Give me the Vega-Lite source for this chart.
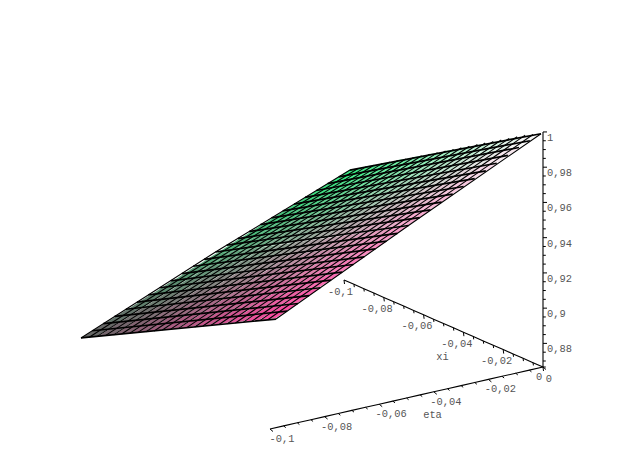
{"$schema":"https://vega.github.io/schema/vega-lite/v6.json","width":623,"height":473,"padding":0,"autosize":"none","background":"white","config":{"view":{"stroke":null}},
"datasets":{
"cells":[
{"e":-0.0958,"x":-0.0958,"z":0.874},{"e":-0.0958,"x":-0.0875,"z":0.879},{"e":-0.0958,"x":-0.0792,"z":0.884},{"e":-0.0958,"x":-0.0708,"z":0.8891},{"e":-0.0958,"x":-0.0625,"z":0.8941},{"e":-0.0958,"x":-0.0542,"z":0.8992},{"e":-0.0958,"x":-0.0458,"z":0.9043},{"e":-0.0958,"x":-0.0375,"z":0.9093},{"e":-0.0958,"x":-0.0292,"z":0.9143},{"e":-0.0958,"x":-0.0208,"z":0.9194},{"e":-0.0958,"x":-0.0125,"z":0.9244},{"e":-0.0958,"x":-0.0042,"z":0.9295},
{"e":-0.0875,"x":-0.0958,"z":0.879},{"e":-0.0875,"x":-0.0875,"z":0.8841},{"e":-0.0875,"x":-0.0792,"z":0.8892},{"e":-0.0875,"x":-0.0708,"z":0.8944},{"e":-0.0875,"x":-0.0625,"z":0.8995},{"e":-0.0875,"x":-0.0542,"z":0.9046},{"e":-0.0875,"x":-0.0458,"z":0.9098},{"e":-0.0875,"x":-0.0375,"z":0.9149},{"e":-0.0875,"x":-0.0292,"z":0.92},{"e":-0.0875,"x":-0.0208,"z":0.9251},{"e":-0.0875,"x":-0.0125,"z":0.9302},{"e":-0.0875,"x":-0.0042,"z":0.9353},
{"e":-0.0792,"x":-0.0958,"z":0.884},{"e":-0.0792,"x":-0.0875,"z":0.8892},{"e":-0.0792,"x":-0.0792,"z":0.8944},{"e":-0.0792,"x":-0.0708,"z":0.8996},{"e":-0.0792,"x":-0.0625,"z":0.9048},{"e":-0.0792,"x":-0.0542,"z":0.91},{"e":-0.0792,"x":-0.0458,"z":0.9152},{"e":-0.0792,"x":-0.0375,"z":0.9204},{"e":-0.0792,"x":-0.0292,"z":0.9256},{"e":-0.0792,"x":-0.0208,"z":0.9308},{"e":-0.0792,"x":-0.0125,"z":0.936},{"e":-0.0792,"x":-0.0042,"z":0.9412},
{"e":-0.0708,"x":-0.0958,"z":0.8891},{"e":-0.0708,"x":-0.0875,"z":0.8943},{"e":-0.0708,"x":-0.0792,"z":0.8996},{"e":-0.0708,"x":-0.0708,"z":0.9049},{"e":-0.0708,"x":-0.0625,"z":0.9101},{"e":-0.0708,"x":-0.0542,"z":0.9154},{"e":-0.0708,"x":-0.0458,"z":0.9207},{"e":-0.0708,"x":-0.0375,"z":0.926},{"e":-0.0708,"x":-0.0292,"z":0.9312},{"e":-0.0708,"x":-0.0208,"z":0.9365},{"e":-0.0708,"x":-0.0125,"z":0.9418},{"e":-0.0708,"x":-0.0042,"z":0.947},
{"e":-0.0625,"x":-0.0958,"z":0.8941},{"e":-0.0625,"x":-0.0875,"z":0.8994},{"e":-0.0625,"x":-0.0792,"z":0.9048},{"e":-0.0625,"x":-0.0708,"z":0.9102},{"e":-0.0625,"x":-0.0625,"z":0.9155},{"e":-0.0625,"x":-0.0542,"z":0.9208},{"e":-0.0625,"x":-0.0458,"z":0.9262},{"e":-0.0625,"x":-0.0375,"z":0.9315},{"e":-0.0625,"x":-0.0292,"z":0.9369},{"e":-0.0625,"x":-0.0208,"z":0.9422},{"e":-0.0625,"x":-0.0125,"z":0.9476},{"e":-0.0625,"x":-0.0042,"z":0.9529},
{"e":-0.0542,"x":-0.0958,"z":0.8991},{"e":-0.0542,"x":-0.0875,"z":0.9045},{"e":-0.0542,"x":-0.0792,"z":0.91},{"e":-0.0542,"x":-0.0708,"z":0.9154},{"e":-0.0542,"x":-0.0625,"z":0.9208},{"e":-0.0542,"x":-0.0542,"z":0.9262},{"e":-0.0542,"x":-0.0458,"z":0.9317},{"e":-0.0542,"x":-0.0375,"z":0.9371},{"e":-0.0542,"x":-0.0292,"z":0.9425},{"e":-0.0542,"x":-0.0208,"z":0.948},{"e":-0.0542,"x":-0.0125,"z":0.9534},{"e":-0.0542,"x":-0.0042,"z":0.9588},
{"e":-0.0458,"x":-0.0958,"z":0.9043},{"e":-0.0458,"x":-0.0875,"z":0.9097},{"e":-0.0458,"x":-0.0792,"z":0.9152},{"e":-0.0458,"x":-0.0708,"z":0.9208},{"e":-0.0458,"x":-0.0625,"z":0.9262},{"e":-0.0458,"x":-0.0542,"z":0.9317},{"e":-0.0458,"x":-0.0458,"z":0.9373},{"e":-0.0458,"x":-0.0375,"z":0.9427},{"e":-0.0458,"x":-0.0292,"z":0.9482},{"e":-0.0458,"x":-0.0208,"z":0.9538},{"e":-0.0458,"x":-0.0125,"z":0.9592},{"e":-0.0458,"x":-0.0042,"z":0.9647},
{"e":-0.0375,"x":-0.0958,"z":0.9093},{"e":-0.0375,"x":-0.0875,"z":0.9149},{"e":-0.0375,"x":-0.0792,"z":0.9204},{"e":-0.0375,"x":-0.0708,"z":0.926},{"e":-0.0375,"x":-0.0625,"z":0.9316},{"e":-0.0375,"x":-0.0542,"z":0.9371},{"e":-0.0375,"x":-0.0458,"z":0.9428},{"e":-0.0375,"x":-0.0375,"z":0.9483},{"e":-0.0375,"x":-0.0292,"z":0.9539},{"e":-0.0375,"x":-0.0208,"z":0.9595},{"e":-0.0375,"x":-0.0125,"z":0.965},{"e":-0.0375,"x":-0.0042,"z":0.9706},
{"e":-0.0292,"x":-0.0958,"z":0.9143},{"e":-0.0292,"x":-0.0875,"z":0.92},{"e":-0.0292,"x":-0.0792,"z":0.9256},{"e":-0.0292,"x":-0.0708,"z":0.9313},{"e":-0.0292,"x":-0.0625,"z":0.9369},{"e":-0.0292,"x":-0.0542,"z":0.9425},{"e":-0.0292,"x":-0.0458,"z":0.9482},{"e":-0.0292,"x":-0.0375,"z":0.9539},{"e":-0.0292,"x":-0.0292,"z":0.9595},{"e":-0.0292,"x":-0.0208,"z":0.9652},{"e":-0.0292,"x":-0.0125,"z":0.9708},{"e":-0.0292,"x":-0.0042,"z":0.9765},
{"e":-0.0208,"x":-0.0958,"z":0.9194},{"e":-0.0208,"x":-0.0875,"z":0.9251},{"e":-0.0208,"x":-0.0792,"z":0.9308},{"e":-0.0208,"x":-0.0708,"z":0.9365},{"e":-0.0208,"x":-0.0625,"z":0.9422},{"e":-0.0208,"x":-0.0542,"z":0.9479},{"e":-0.0208,"x":-0.0458,"z":0.9537},{"e":-0.0208,"x":-0.0375,"z":0.9594},{"e":-0.0208,"x":-0.0292,"z":0.9651},{"e":-0.0208,"x":-0.0208,"z":0.9709},{"e":-0.0208,"x":-0.0125,"z":0.9766},{"e":-0.0208,"x":-0.0042,"z":0.9823},
{"e":-0.0125,"x":-0.0958,"z":0.9244},{"e":-0.0125,"x":-0.0875,"z":0.9302},{"e":-0.0125,"x":-0.0792,"z":0.9359},{"e":-0.0125,"x":-0.0708,"z":0.9418},{"e":-0.0125,"x":-0.0625,"z":0.9476},{"e":-0.0125,"x":-0.0542,"z":0.9534},{"e":-0.0125,"x":-0.0458,"z":0.9592},{"e":-0.0125,"x":-0.0375,"z":0.965},{"e":-0.0125,"x":-0.0292,"z":0.9708},{"e":-0.0125,"x":-0.0208,"z":0.9766},{"e":-0.0125,"x":-0.0125,"z":0.9824},{"e":-0.0125,"x":-0.0042,"z":0.9882},
{"e":-0.0042,"x":-0.0958,"z":0.9294},{"e":-0.0042,"x":-0.0875,"z":0.9353},{"e":-0.0042,"x":-0.0792,"z":0.9411},{"e":-0.0042,"x":-0.0708,"z":0.9471},{"e":-0.0042,"x":-0.0625,"z":0.9529},{"e":-0.0042,"x":-0.0542,"z":0.9588},{"e":-0.0042,"x":-0.0458,"z":0.9647},{"e":-0.0042,"x":-0.0375,"z":0.9705},{"e":-0.0042,"x":-0.0292,"z":0.9764},{"e":-0.0042,"x":-0.0208,"z":0.9823},{"e":-0.0042,"x":-0.0125,"z":0.9882},{"e":-0.0042,"x":-0.0042,"z":0.994}
],
"xiLines":[
{"x":-0.1,"e":0,"z":0.929},{"x":-0.1,"e":-0.05,"z":0.9001},{"x":-0.1,"e":-0.1,"z":0.8689},
{"x":-0.0958,"e":0,"z":0.932},{"x":-0.0958,"e":-0.05,"z":0.9028},{"x":-0.0958,"e":-0.1,"z":0.8714},
{"x":-0.0917,"e":0,"z":0.9349},{"x":-0.0917,"e":-0.05,"z":0.9054},{"x":-0.0917,"e":-0.1,"z":0.8739},
{"x":-0.0875,"e":0,"z":0.9379},{"x":-0.0875,"e":-0.05,"z":0.9081},{"x":-0.0875,"e":-0.1,"z":0.8764},
{"x":-0.0833,"e":0,"z":0.9409},{"x":-0.0833,"e":-0.05,"z":0.9108},{"x":-0.0833,"e":-0.1,"z":0.8789},
{"x":-0.0792,"e":0,"z":0.9438},{"x":-0.0792,"e":-0.05,"z":0.9135},{"x":-0.0792,"e":-0.1,"z":0.8814},
{"x":-0.075,"e":0,"z":0.9468},{"x":-0.075,"e":-0.05,"z":0.9162},{"x":-0.075,"e":-0.1,"z":0.8839},
{"x":-0.0708,"e":0,"z":0.9497},{"x":-0.0708,"e":-0.05,"z":0.9189},{"x":-0.0708,"e":-0.1,"z":0.8865},
{"x":-0.0667,"e":0,"z":0.9526},{"x":-0.0667,"e":-0.05,"z":0.9215},{"x":-0.0667,"e":-0.1,"z":0.8889},
{"x":-0.0625,"e":0,"z":0.9556},{"x":-0.0625,"e":-0.05,"z":0.9242},{"x":-0.0625,"e":-0.1,"z":0.8914},
{"x":-0.0583,"e":0,"z":0.9586},{"x":-0.0583,"e":-0.05,"z":0.9269},{"x":-0.0583,"e":-0.1,"z":0.894},
{"x":-0.0542,"e":0,"z":0.9615},{"x":-0.0542,"e":-0.05,"z":0.9296},{"x":-0.0542,"e":-0.1,"z":0.8964},
{"x":-0.05,"e":0,"z":0.9645},{"x":-0.05,"e":-0.05,"z":0.9323},{"x":-0.05,"e":-0.1,"z":0.899},
{"x":-0.0458,"e":0,"z":0.9675},{"x":-0.0458,"e":-0.05,"z":0.935},{"x":-0.0458,"e":-0.1,"z":0.9015},
{"x":-0.0417,"e":0,"z":0.9704},{"x":-0.0417,"e":-0.05,"z":0.9376},{"x":-0.0417,"e":-0.1,"z":0.9039},
{"x":-0.0375,"e":0,"z":0.9734},{"x":-0.0375,"e":-0.05,"z":0.9403},{"x":-0.0375,"e":-0.1,"z":0.9065},
{"x":-0.0333,"e":0,"z":0.9764},{"x":-0.0333,"e":-0.05,"z":0.943},{"x":-0.0333,"e":-0.1,"z":0.909},
{"x":-0.0292,"e":0,"z":0.9793},{"x":-0.0292,"e":-0.05,"z":0.9457},{"x":-0.0292,"e":-0.1,"z":0.9115},
{"x":-0.025,"e":0,"z":0.9823},{"x":-0.025,"e":-0.05,"z":0.9484},{"x":-0.025,"e":-0.1,"z":0.914},
{"x":-0.0208,"e":0,"z":0.9852},{"x":-0.0208,"e":-0.05,"z":0.9511},{"x":-0.0208,"e":-0.1,"z":0.9165},
{"x":-0.0167,"e":0,"z":0.9881},{"x":-0.0167,"e":-0.05,"z":0.9537},{"x":-0.0167,"e":-0.1,"z":0.919},
{"x":-0.0125,"e":0,"z":0.9911},{"x":-0.0125,"e":-0.05,"z":0.9564},{"x":-0.0125,"e":-0.1,"z":0.9215},
{"x":-0.0083,"e":0,"z":0.9941},{"x":-0.0083,"e":-0.05,"z":0.9591},{"x":-0.0083,"e":-0.1,"z":0.924},
{"x":-0.0042,"e":0,"z":0.9965},{"x":-0.0042,"e":-0.05,"z":0.9618},{"x":-0.0042,"e":-0.1,"z":0.9265},
{"x":0,"e":0,"z":0.999},{"x":0,"e":-0.05,"z":0.9645},{"x":0,"e":-0.1,"z":0.929}
],
"etaLines":[
{"e":-0.1,"x":-0.1,"z":0.8689},{"e":-0.1,"x":0,"z":0.929},
{"e":-0.0958,"x":-0.1,"z":0.8715},{"e":-0.0958,"x":0,"z":0.932},
{"e":-0.0917,"x":-0.1,"z":0.8741},{"e":-0.0917,"x":0,"z":0.9349},
{"e":-0.0875,"x":-0.1,"z":0.8767},{"e":-0.0875,"x":0,"z":0.9379},
{"e":-0.0833,"x":-0.1,"z":0.8793},{"e":-0.0833,"x":0,"z":0.9409},
{"e":-0.0792,"x":-0.1,"z":0.8819},{"e":-0.0792,"x":0,"z":0.9438},
{"e":-0.075,"x":-0.1,"z":0.8845},{"e":-0.075,"x":0,"z":0.9468},
{"e":-0.0708,"x":-0.1,"z":0.8871},{"e":-0.0708,"x":0,"z":0.9497},
{"e":-0.0667,"x":-0.1,"z":0.8896},{"e":-0.0667,"x":0,"z":0.9526},
{"e":-0.0625,"x":-0.1,"z":0.8922},{"e":-0.0625,"x":0,"z":0.9556},
{"e":-0.0583,"x":-0.1,"z":0.8949},{"e":-0.0583,"x":0,"z":0.9586},
{"e":-0.0542,"x":-0.1,"z":0.8974},{"e":-0.0542,"x":0,"z":0.9615},
{"e":-0.05,"x":-0.1,"z":0.9001},{"e":-0.05,"x":0,"z":0.9645},
{"e":-0.0458,"x":-0.1,"z":0.9025},{"e":-0.0458,"x":0,"z":0.9675},
{"e":-0.0417,"x":-0.1,"z":0.9048},{"e":-0.0417,"x":0,"z":0.9704},
{"e":-0.0375,"x":-0.1,"z":0.9073},{"e":-0.0375,"x":0,"z":0.9734},
{"e":-0.0333,"x":-0.1,"z":0.9097},{"e":-0.0333,"x":0,"z":0.9764},
{"e":-0.0292,"x":-0.1,"z":0.9121},{"e":-0.0292,"x":0,"z":0.9793},
{"e":-0.025,"x":-0.1,"z":0.9146},{"e":-0.025,"x":0,"z":0.9823},
{"e":-0.0208,"x":-0.1,"z":0.917},{"e":-0.0208,"x":0,"z":0.9852},
{"e":-0.0167,"x":-0.1,"z":0.9194},{"e":-0.0167,"x":0,"z":0.9881},
{"e":-0.0125,"x":-0.1,"z":0.9218},{"e":-0.0125,"x":0,"z":0.9911},
{"e":-0.0083,"x":-0.1,"z":0.9242},{"e":-0.0083,"x":0,"z":0.9941},
{"e":-0.0042,"x":-0.1,"z":0.9266},{"e":-0.0042,"x":0,"z":0.9965},
{"e":0,"x":-0.1,"z":0.929},{"e":0,"x":0,"z":0.999}
],
"ticks":[
{"a":"z","v":0.8666},{"a":"z","v":0.87},{"a":"z","v":0.875},{"a":"z","v":0.88},{"a":"z","v":0.885},{"a":"z","v":0.89},{"a":"z","v":0.895},{"a":"z","v":0.9},{"a":"z","v":0.905},{"a":"z","v":0.91},{"a":"z","v":0.915},{"a":"z","v":0.92},{"a":"z","v":0.925},{"a":"z","v":0.93},{"a":"z","v":0.935},{"a":"z","v":0.94},{"a":"z","v":0.945},{"a":"z","v":0.95},{"a":"z","v":0.955},{"a":"z","v":0.96},{"a":"z","v":0.965},{"a":"z","v":0.97},{"a":"z","v":0.975},{"a":"z","v":0.98},{"a":"z","v":0.985},{"a":"z","v":0.99},{"a":"z","v":0.995},{"a":"z","v":1},
{"a":"xi","v":-0.1},{"a":"xi","v":-0.095},{"a":"xi","v":-0.09},{"a":"xi","v":-0.085},{"a":"xi","v":-0.08},{"a":"xi","v":-0.075},{"a":"xi","v":-0.07},{"a":"xi","v":-0.065},{"a":"xi","v":-0.06},{"a":"xi","v":-0.055},{"a":"xi","v":-0.05},{"a":"xi","v":-0.045},{"a":"xi","v":-0.04},{"a":"xi","v":-0.035},{"a":"xi","v":-0.03},{"a":"xi","v":-0.025},{"a":"xi","v":-0.02},{"a":"xi","v":-0.015},{"a":"xi","v":-0.01},{"a":"xi","v":-0.005},{"a":"xi","v":0},
{"a":"eta","v":-0.1},{"a":"eta","v":-0.095},{"a":"eta","v":-0.09},{"a":"eta","v":-0.085},{"a":"eta","v":-0.08},{"a":"eta","v":-0.075},{"a":"eta","v":-0.07},{"a":"eta","v":-0.065},{"a":"eta","v":-0.06},{"a":"eta","v":-0.055},{"a":"eta","v":-0.05},{"a":"eta","v":-0.045},{"a":"eta","v":-0.04},{"a":"eta","v":-0.035},{"a":"eta","v":-0.03},{"a":"eta","v":-0.025},{"a":"eta","v":-0.02},{"a":"eta","v":-0.015},{"a":"eta","v":-0.01},{"a":"eta","v":-0.005},{"a":"eta","v":0}
],
"labels":[
{"a":"z","v":1,"t":"1"},{"a":"z","v":0.98,"t":"0,98"},{"a":"z","v":0.96,"t":"0,96"},{"a":"z","v":0.94,"t":"0,94"},{"a":"z","v":0.92,"t":"0,92"},{"a":"z","v":0.9,"t":"0,9"},{"a":"z","v":0.88,"t":"0,88"},
{"a":"xi","v":-0.1,"t":"-0,1"},{"a":"xi","v":-0.08,"t":"-0,08"},{"a":"xi","v":-0.06,"t":"-0,06"},{"a":"xi","v":-0.04,"t":"-0,04"},{"a":"xi","v":-0.02,"t":"-0,02"},{"a":"xi","v":0,"t":"0"},
{"a":"eta","v":-0.1,"t":"-0,1"},{"a":"eta","v":-0.08,"t":"-0,08"},{"a":"eta","v":-0.06,"t":"-0,06"},{"a":"eta","v":-0.04,"t":"-0,04"},{"a":"eta","v":-0.02,"t":"-0,02"},{"a":"eta","v":0,"t":"0"},
{"a":"etaTitle","v":-0.05,"t":"eta"},{"a":"xiTitle","v":-0.05,"t":"xi"}
]
},
"encoding":{
"x":{"field":"sx","type":"quantitative","axis":null,"scale":{"domain":[0,623],"range":[0,623]}},
"y":{"field":"sy","type":"quantitative","axis":null,"scale":{"domain":[0,473],"range":[0,473]}}
},
"layer":[
{"data":{"name":"cells"},
"transform":[
{"calculate":"541+2650*datum.e+1910*datum.x-400*datum.e*datum.x","as":"sx"},
{"calculate":"367-620*datum.e+870*datum.x-1762*(datum.z-0.8666)","as":"sy"},
{"calculate":"(datum.e+0.1)/0.1","as":"p"},{"calculate":"(datum.x+0.1)/0.1","as":"q"},
{"calculate":"'rgb('+round((1-datum.p)*(1-datum.q)*100+(1-datum.p)*datum.q*255+datum.p*(1-datum.q)*48+datum.p*datum.q*255)+','+round((1-datum.p)*(1-datum.q)*100+(1-datum.p)*datum.q*70+datum.p*(1-datum.q)*240+datum.p*datum.q*255)+','+round((1-datum.p)*(1-datum.q)*100+(1-datum.p)*datum.q*160+datum.p*(1-datum.q)*130+datum.p*datum.q*255)+')'","as":"c"}],
"mark":{"type":"point","filled":true,"opacity":1,"size":4,"shape":"M-19.2 8.3L-3.2 6.1L19.2 -8.3L3.2 -6.1Z"},
"encoding":{"fill":{"field":"c","type":"nominal","scale":null,"legend":null}}},
{"data":{"name":"xiLines"},
"transform":[
{"calculate":"541+2650*datum.e+1910*datum.x-400*datum.e*datum.x","as":"sx"},
{"calculate":"367-620*datum.e+870*datum.x-1762*(datum.z-0.8666)","as":"sy"}],
"mark":{"type":"line","color":"#000","strokeWidth":1.1},
"encoding":{"detail":{"field":"x","type":"nominal"},"order":{"field":"e","type":"quantitative"}}},
{"data":{"name":"etaLines"},
"transform":[
{"calculate":"541+2650*datum.e+1910*datum.x-400*datum.e*datum.x","as":"sx"},
{"calculate":"367-620*datum.e+870*datum.x-1762*(datum.z-0.8666)","as":"sy"}],
"mark":{"type":"line","color":"#000","strokeWidth":1.7},
"encoding":{"detail":{"field":"e","type":"nominal"},"order":{"field":"x","type":"quantitative"}}},
{"data":{"name":"ticks"},
"transform":[
{"calculate":"datum.a=='z'?543:datum.a=='xi'?543+1990*datum.v:543+2730*datum.v","as":"sx"},
{"calculate":"datum.a=='z'?367-1762*(datum.v-0.8666):datum.a=='xi'?367+870*datum.v:367-620*datum.v","as":"sy"}],
"mark":{"type":"line","color":"#000","strokeWidth":1.1},
"encoding":{"detail":{"field":"a","type":"nominal"},"order":{"field":"v","type":"quantitative"}}},
{"data":{"name":"ticks"},
"transform":[
{"calculate":"datum.a=='z'?543:datum.a=='xi'?543+1990*datum.v:543+2730*datum.v","as":"sx"},
{"calculate":"datum.a=='z'?367-1762*(datum.v-0.8666):datum.a=='xi'?367+870*datum.v:367-620*datum.v","as":"sy"},
{"calculate":"abs(datum.v/0.02-round(datum.v/0.02))<0.01?1:0.7","as":"m"},
{"calculate":"datum.sx+(datum.a=='z'?4:datum.a=='xi'?0.5:3)*datum.m","as":"tx"},
{"calculate":"datum.sy+(datum.a=='z'?0:datum.a=='xi'?4:2.5)*datum.m","as":"ty"}],
"mark":{"type":"rule","color":"#000","strokeWidth":1},
"encoding":{"x2":{"field":"tx"},"y2":{"field":"ty"}}},
{"data":{"name":"labels"},
"transform":[
{"calculate":"datum.a=='z'?543:indexof(datum.a,'xi')==0?543+1990*datum.v:543+2730*datum.v","as":"ax"},
{"calculate":"datum.a=='z'?367-1762*(datum.v-0.8666):indexof(datum.a,'xi')==0?367+870*datum.v:367-620*datum.v","as":"ay"},
{"calculate":"datum.a=='z'?datum.ax+4+length(datum.t)*3.12:datum.a=='xi'?datum.ax+9-length(datum.t)*3.12:datum.a=='eta'?datum.ax+(datum.v==0?-4:12):datum.a=='etaTitle'?datum.ax+26:datum.ax-1","as":"sx"},
{"calculate":"datum.a=='z'?datum.ay+6:datum.a=='xi'?datum.ay+11.5:datum.a=='eta'?datum.ay+10:datum.a=='etaTitle'?datum.ay+17:datum.ay+33","as":"sy"}],
"mark":{"type":"text","font":"Liberation Mono","fontSize":10.4,"color":"#555","align":"center","baseline":"middle"},
"encoding":{"text":{"field":"t","type":"nominal"}}}
]}
